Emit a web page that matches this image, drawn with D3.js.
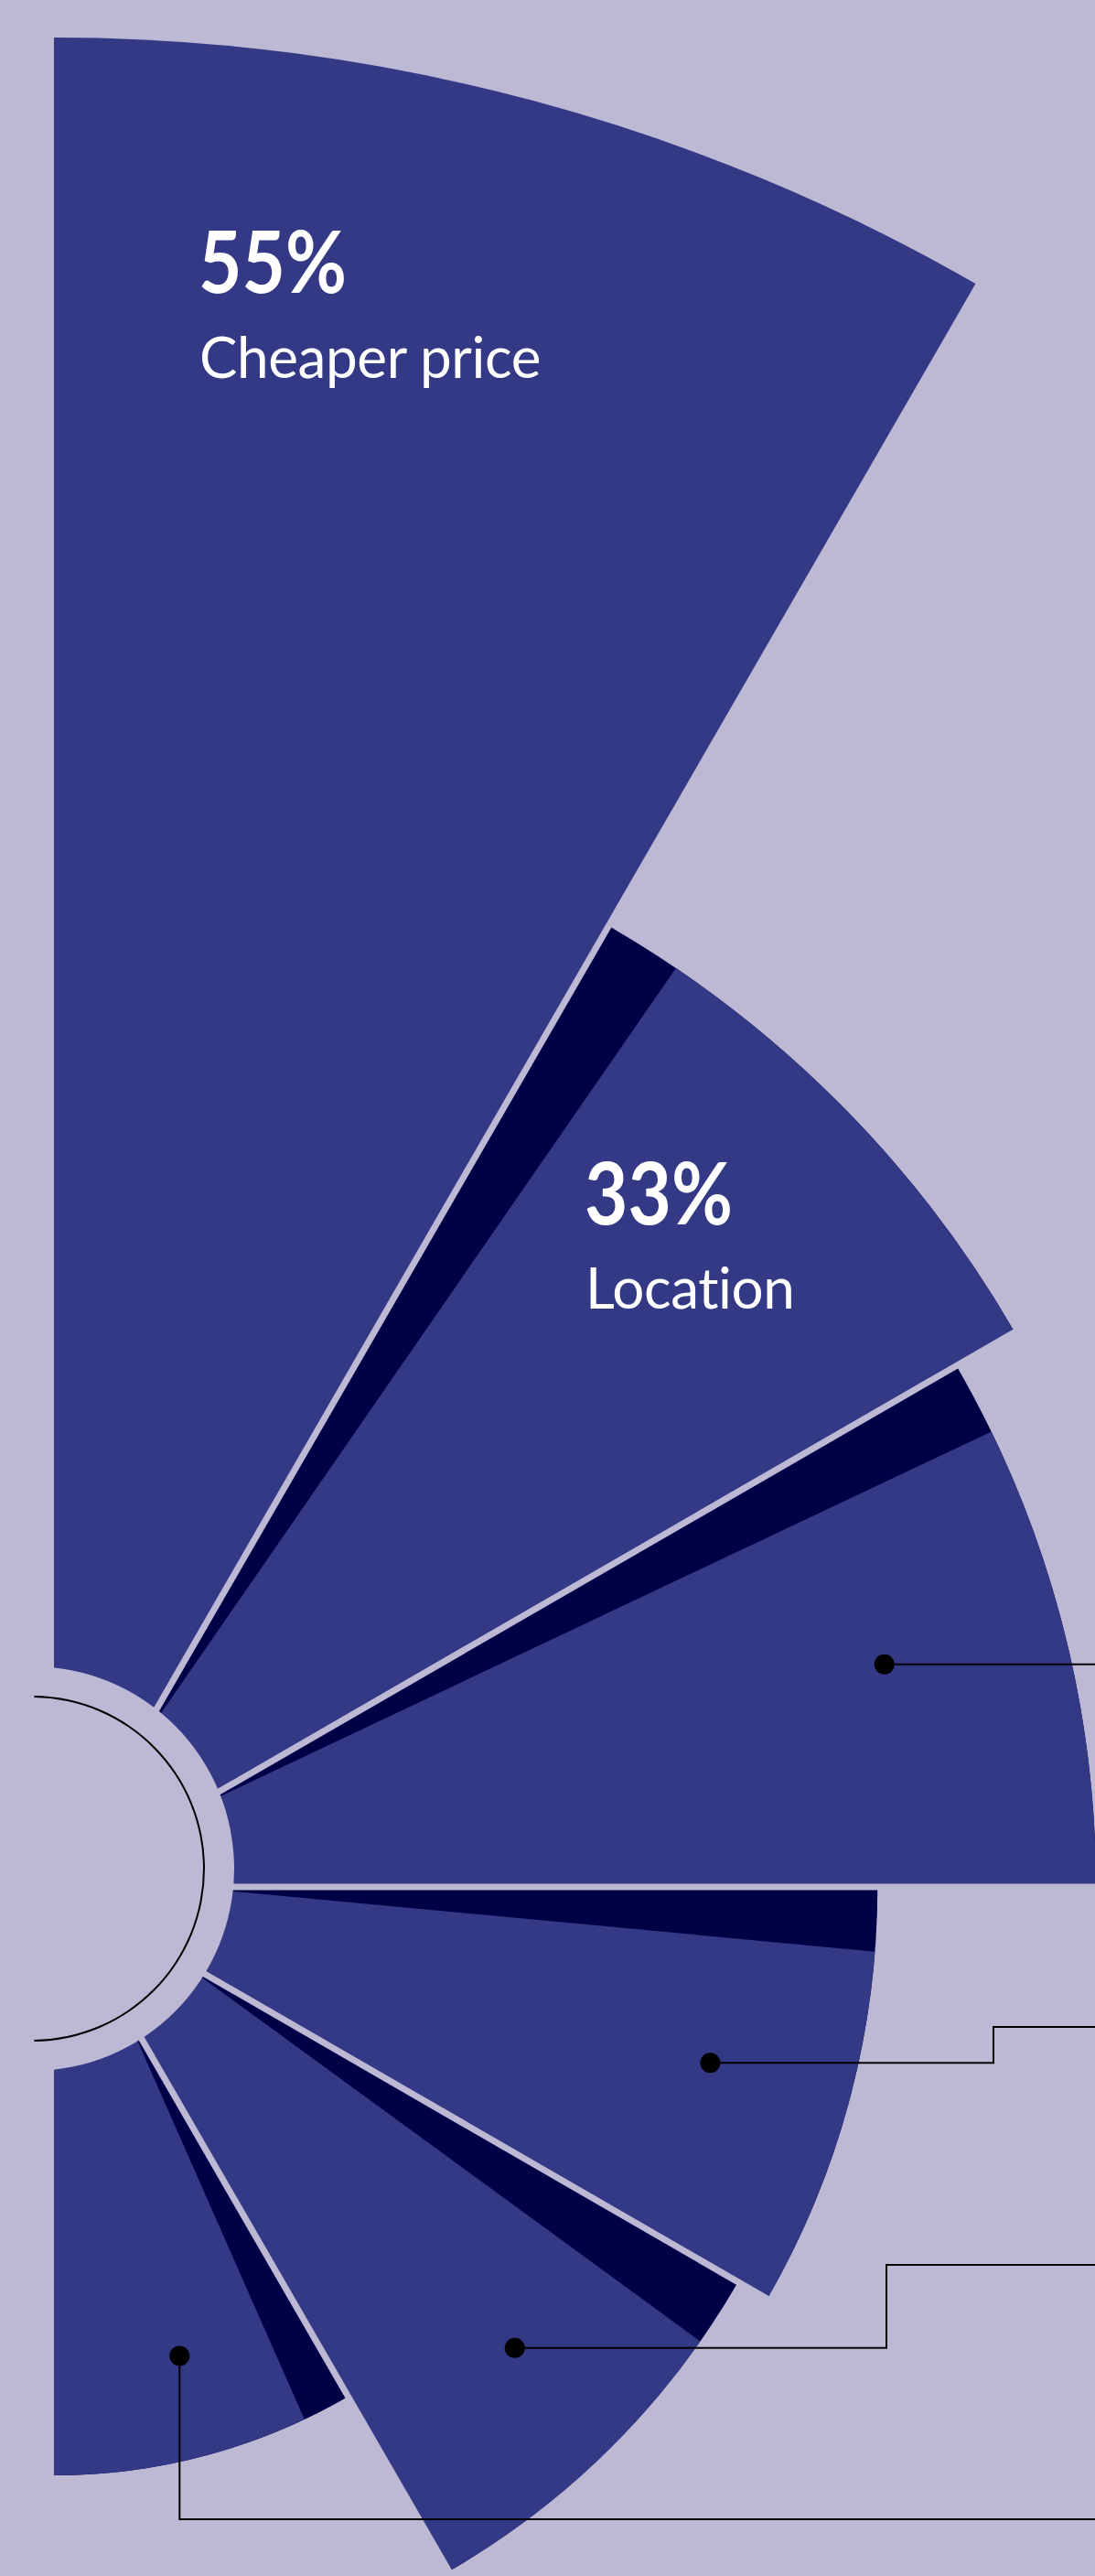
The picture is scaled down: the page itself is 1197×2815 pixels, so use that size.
<!DOCTYPE html>
<html><head><meta charset="utf-8">
<script src="https://cdn.jsdelivr.net/npm/d3@7"></script>
<style>html,body{margin:0;padding:0;background:#bdb8d3;} svg{display:block}</style>
</head><body><svg id="chart" width="1197" height="2815"></svg>
<script>
// ---------- data ----------
const categories = ["Cheaper price", "Location", "Reason 3", "Reason 4", "Reason 5", "Reason 6"];
const values = [55, 33, 31, 24.5, 23.5, 17.5];
const showLabel = [true, true, false, false, false, false];

// ---------- style / layout ----------
const W = 1197, H = 2815;
const COLORS = { bg: "#bdb8d3", bar: "#333985", fold: "#000047", text: "#ffffff", ink: "#000000" };
const center = { x: 59, y: 2062 };
const hub = { x: 35, y: 2042, r: 221, ring: 188 };
const foldDeg = [0, 4.1, 4.1, 4.5, 5.1, 4.8];
const foldApex = 145;
const gapWidth = 7;
const labelLayout = [
  { x: 217, y: 320, y2: 413 },
  { x: 639, y: 1338, y2: 1430 }
];
const pctWidth = 162;
const leaderLayout = [null, null,
  { type: "straight" },
  { type: "step", elbowX: 1086, targetY: 2215 },
  { type: "step", elbowX: 969, targetY: 2475 },
  { type: "down", targetY: 2753 }
];
const anchorFrac = 0.825;

const svg = d3.select("#chart");
svg.append("rect").attr("width", W).attr("height", H).attr("fill", COLORS.bg);

const angle = d3.scaleBand().domain(categories).range([0, Math.PI]).padding(0);
const radius = d3.scaleLinear().domain([0, 55]).range([0, 2021]);
const rad = d => d * Math.PI / 180;

const g = svg.append("g").attr("transform", `translate(${center.x},${center.y})`);

const data = categories.map((c, i) => ({
  cat: c, value: values[i], i,
  a0: angle(c), a1: angle(c) + angle.bandwidth(), R: radius(values[i])
}));

const arc = d3.arc().innerRadius(0);

data.forEach(d => {
  const fold = rad(foldDeg[d.i]);
  if (fold > 0) {
    g.append("path")
      .attr("d", arc({ startAngle: d.a0, endAngle: d.a1, outerRadius: d.R }))
      .attr("fill", COLORS.fold);
    const p = d3.path();
    const apex = d3.pointRadial(d.a0, foldApex);
    const outer = d3.pointRadial(d.a0 + fold, d.R);
    p.moveTo(apex[0], apex[1]);
    p.lineTo(outer[0], outer[1]);
    p.arc(0, 0, d.R, d.a0 + fold - Math.PI / 2, d.a1 - Math.PI / 2);
    p.lineTo(0, 0);
    p.closePath();
    g.append("path").attr("d", p.toString()).attr("fill", COLORS.bar);
  } else {
    g.append("path")
      .attr("d", arc({ startAngle: d.a0, endAngle: d.a1, outerRadius: d.R }))
      .attr("fill", COLORS.bar);
  }
});

// gaps between bars
const line = d3.line();
for (let i = 0; i < data.length - 1; i++) {
  const b = data[i + 1].a0;
  const len = Math.max(data[i].R, data[i + 1].R) + 10;
  g.append("path")
    .attr("d", line([d3.pointRadial(b, 0), d3.pointRadial(b, len)]))
    .attr("stroke", COLORS.bg).attr("stroke-width", gapWidth).attr("fill", "none");
}

// hub
svg.append("circle").attr("cx", hub.x).attr("cy", hub.y).attr("r", hub.r).attr("fill", COLORS.bg);
svg.append("path")
  .attr("transform", `translate(${hub.x},${hub.y})`)
  .attr("d", d3.arc().innerRadius(hub.ring - 1).outerRadius(hub.ring + 1)({ startAngle: 0.013, endAngle: Math.PI - 0.013 }))
  .attr("fill", COLORS.ink);

// labels
data.filter(d => showLabel[d.i]).forEach(d => {
  const L = labelLayout[d.i];
  svg.append("text").attr("x", L.x).attr("y", L.y)
    .attr("fill", COLORS.text).attr("font-family", "Lato, 'Open Sans', sans-serif")
    .attr("font-weight", 700).attr("font-size", 94)
    .attr("textLength", pctWidth).attr("lengthAdjust", "spacingAndGlyphs")
    .text(d.value + "%");
  svg.append("text").attr("x", L.x + 1).attr("y", L.y2)
    .attr("fill", COLORS.text).attr("font-family", "Lato, 'Open Sans', sans-serif")
    .attr("font-weight", 400).attr("font-size", 62).attr("letter-spacing", -0.4)
    .text(d.cat);
});

// leaders
data.forEach(d => {
  const L = leaderLayout[d.i];
  if (!L) return;
  const pr = d3.pointRadial((d.a0 + d.a1) / 2, d.R * anchorFrac);
  const p = [pr[0] + center.x, pr[1] + center.y];
  let pts;
  if (L.type === "straight") pts = [p, [W + 10, p[1]]];
  else if (L.type === "step") pts = [p, [L.elbowX, p[1]], [L.elbowX, L.targetY], [W + 10, L.targetY]];
  else pts = [p, [p[0], L.targetY], [W + 10, L.targetY]];
  svg.append("path").attr("d", line(pts)).attr("fill", "none")
    .attr("stroke", COLORS.ink).attr("stroke-width", 2);
  svg.append("circle").attr("cx", p[0]).attr("cy", p[1]).attr("r", 11).attr("fill", COLORS.ink);
});
</script></body></html>
